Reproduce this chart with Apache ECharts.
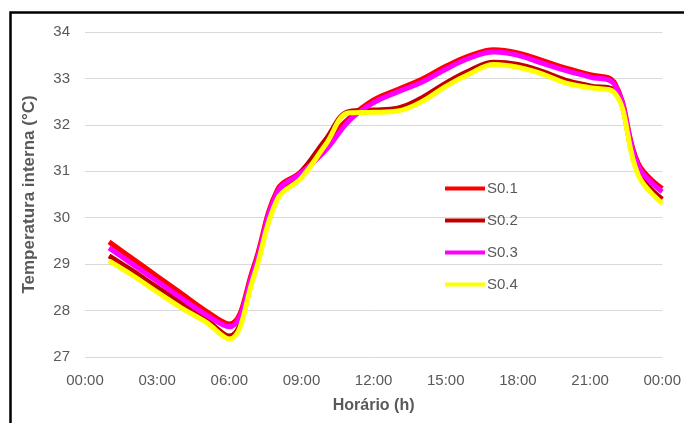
<!DOCTYPE html>
<html>
<head>
<meta charset="utf-8">
<script src="https://cdn.jsdelivr.net/npm/echarts@6/dist/echarts.min.js"></script>
<style>
  html, body { margin: 0; padding: 0; background: #fff; }
  #chart { width: 684px; height: 423px; }
</style>
</head>
<body>
<div id="chart"></div>
<script>
// horas (1h ... 24h)
const hours = [1, 2, 3, 4, 5, 6, 7, 8, 9, 10, 11, 12, 13, 14, 15, 16, 17, 18, 19, 20, 21, 22, 23, 24]
const seriesNames = ['S0.1', 'S0.2', 'S0.3', 'S0.4']
const s01 = [29.48, 29.11, 28.74, 28.37, 28.0, 27.71, 28.92, 30.6, 31.0, 31.62, 32.15, 32.54, 32.76, 32.98, 33.26, 33.49, 33.62, 33.55, 33.39, 33.22, 33.08, 32.92, 31.17, 30.63]
const s02 = [29.18, 28.85, 28.5, 28.16, 27.82, 27.45, 28.75, 30.5, 30.99, 31.68, 32.29, 32.32, 32.36, 32.58, 32.9, 33.17, 33.35, 33.3, 33.15, 32.96, 32.84, 32.74, 30.98, 30.4]
const s03 = [29.35, 28.99, 28.63, 28.27, 27.92, 27.65, 28.85, 30.55, 30.97, 31.45, 32.1, 32.48, 32.71, 32.92, 33.2, 33.44, 33.57, 33.5, 33.33, 33.17, 33.03, 32.88, 31.12, 30.56]
const s04 = [29.07, 28.75, 28.4, 28.06, 27.76, 27.39, 28.7, 30.4, 30.86, 31.57, 32.26, 32.27, 32.3, 32.5, 32.83, 33.1, 33.3, 33.24, 33.1, 32.9, 32.8, 32.7, 30.92, 30.31]
const colors = ['#FF0000', '#C00000', '#FF00FF', '#FFFF00']

const font = 'Liberation Sans'
const chart = echarts.init(document.getElementById('chart'))

let allData = [s01, s02, s03, s04]
let series = []
for (let i = 0; i < seriesNames.length; i++) {
  series.push({
    name: seriesNames[i],
    type: 'line',
    smooth: 0.4,
    symbol: 'none',
    data: hours.map((h, k) => [h, allData[i][k]]),
    lineStyle: { width: 5, color: colors[i] },
    itemStyle: { color: colors[i] }
  })
}

chart.setOption({
  animation: false,
  backgroundColor: '#fff',
  textStyle: { fontFamily: font },
  // moldura preta (só esquerda/topo visíveis)
  graphic: [{
    type: 'rect',
    shape: { x: 10.5, y: 12.5, width: 720, height: 520 },
    style: { fill: 'none', stroke: '#000', lineWidth: 2.5 },
    silent: true
  }],
  grid: { left: 85, right: 21, top: 32, bottom: 66 },
  legend: {
    orient: 'vertical',
    left: 445,
    top: 181,
    padding: 0,
    icon: 'rect',
    itemWidth: 40,
    itemHeight: 4,
    itemGap: 17,
    textStyle: { fontSize: 15, color: '#595959', fontFamily: font, padding: [0, 0, 0, -3] },
    data: seriesNames
  },
  xAxis: {
    type: 'value',
    min: 0,
    max: 24,
    interval: 3,
    name: 'Horário (h)',
    nameLocation: 'middle',
    nameGap: 41,
    nameTextStyle: { fontSize: 16, fontWeight: 'bold', color: '#595959', fontFamily: font },
    axisLine: { show: false },
    axisTick: { show: false },
    splitLine: { show: false },
    axisLabel: {
      fontSize: 15,
      color: '#595959',
      margin: 16,
      formatter: v => String(v % 24).padStart(2, '0') + ':00'
    }
  },
  yAxis: {
    type: 'value',
    min: 27,
    max: 34,
    interval: 1,
    name: 'Temperatura interna (°C)',
    nameLocation: 'middle',
    nameGap: 47,
    nameTextStyle: { fontSize: 17, fontWeight: 'bold', color: '#595959', fontFamily: font },
    axisLine: { show: false },
    axisTick: { show: false },
    axisLabel: { fontSize: 15, color: '#595959', margin: 15 },
    splitLine: { lineStyle: { color: '#D9D9D9', width: 1 } }
  },
  series: series
})
</script>
</body>
</html>
